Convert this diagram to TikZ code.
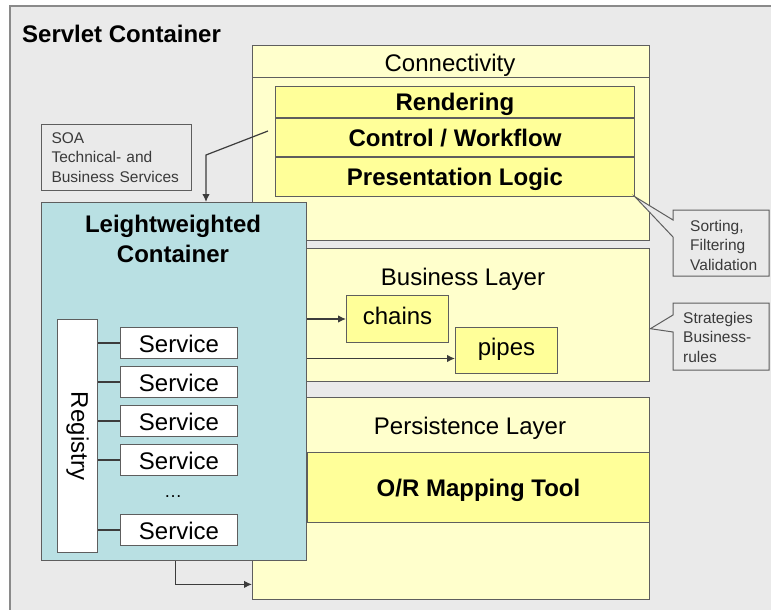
\documentclass[tikz,border=0pt]{standalone}
\usepackage{fontspec}
\setmainfont{Liberation Sans}
\usetikzlibrary{arrows.meta}

\definecolor{panelgray}{HTML}{EAEAEA}
\definecolor{panelline}{HTML}{8A8A8A}
\definecolor{edgegray}{HTML}{5E5E5E}
\definecolor{linkgray}{HTML}{3C3C3C}
\definecolor{notegray}{HTML}{3A3A3A}
\definecolor{layeryellow}{HTML}{FFFFCC}
\definecolor{bandyellow}{HTML}{FFFF99}
\definecolor{lwcblue}{HTML}{B9E0E3}

\begin{document}
\begin{tikzpicture}[x=1pt, y=-1pt,
	every node/.style={inner sep=0pt},
	bigtext/.style={font=\fontsize{24}{30}\selectfont},
	bigbold/.style={font=\fontsize{24}{30}\selectfont\bfseries},
	notetext/.style={font=\fontsize{15.5}{19.5}\selectfont, text=notegray, align=left},
	layer/.style={draw=edgegray, fill=layeryellow, line width=1.4pt, anchor=north west},
	band/.style={draw=edgegray, fill=bandyellow, line width=0.9pt, anchor=north west, bigbold, text height=18pt, text depth=0pt},
	servicebox/.style={draw=edgegray, fill=white, line width=1pt, anchor=north west, minimum width=117pt, minimum height=31pt, bigtext, text height=18pt, text depth=0pt},
	smallbox/.style={draw=edgegray, fill=bandyellow, line width=1pt, anchor=north west, minimum width=102pt, bigtext, text height=18pt, text depth=8pt},
	link/.style={draw=linkgray, line width=1.2pt},
	arrow/.style={link, -{Latex[length=8pt, width=7.5pt]}},
	callout/.style={draw=edgegray, fill=panelgray, line width=1pt},
]
	\useasboundingbox (0,0) rectangle (771,610);
	\clip (0,0) rectangle (771,610);
	\fill[white] (0,0) rectangle (771,610);

	% servlet container panel
	\draw[draw=panelline, fill=panelgray, line width=1.5pt] (10,6) rectangle (800,640);
	\node[bigbold, anchor=base west] (servlet) at (22,43) {Servlet Container};

	% connectivity layer
	\node[layer, minimum width=397pt, minimum height=195pt] (conn) at (252,45) {};
	\draw[edgegray, line width=1pt] ([yshift=-33pt]conn.north west) -- ([yshift=-33pt]conn.north east);
	\node[bigtext, anchor=base] (conntitle) at (450,72) {Connectivity};
	\node[band, minimum width=359pt, minimum height=31pt] (render) at (275,86) {Rendering};
	\node[band, minimum width=359pt, minimum height=38pt] (ctrl) at (render.south west) {Control / Workflow};
	\node[band, minimum width=359pt, minimum height=39pt] (pres) at (ctrl.south west) {Presentation Logic};

	% business layer
	\node[layer, minimum width=397pt, minimum height=133pt] (biz) at (252,248) {};
	\node[bigtext, anchor=base] (biztitle) at (463,285) {Business Layer};
	\node[smallbox, minimum height=47pt] (chains) at (346,295) {chains};
	\node[smallbox, minimum height=46pt] (pipes) at (455,327) {pipes};

	% persistence layer
	\node[layer, minimum width=397pt, minimum height=202pt] (pers) at (252,397) {};
	\node[bigtext, anchor=base] (perstitle) at (470,434) {Persistence Layer};
	\node[band, minimum width=342pt, minimum height=70pt] (ormap) at (307,452) {O/R Mapping Tool};

	% notes
	\draw[callout] (673,210) -- (769,210) -- (769,276) -- (673,276) -- (673,237) -- (pres.south east) -- (673,220) -- cycle;
	\node[notetext, anchor=west] (sortnote) at (690,245) {Sorting,\\Filtering\\Validation};
	\draw[callout] (673,303) -- (769,303) -- (769,370) -- (673,370) -- (673,332) -- ([yshift=-13.5pt]biz.east) -- (673,315) -- cycle;
	\node[notetext, anchor=west] (stratnote) at (683,337) {Strategies\\Business-\\rules};
	\node[draw=edgegray, fill=panelgray, line width=1pt, anchor=north west, notetext,
		minimum height=66pt, text width=130pt, inner xsep=10pt] (soa) at (41,124)
		{SOA\\Technical- and\\Business Services};

	% leightweighted container with registry and services
	\node[draw=edgegray, fill=lwcblue, line width=1.4pt, anchor=north west, minimum width=265pt, minimum height=358pt] (lwc) at (41,202) {};
	\node[bigbold, align=center, anchor=base] (lwctitle) at (173,262) {Leightweighted\\Container};
	\node[draw=edgegray, fill=white, line width=1pt, anchor=north west, minimum width=40pt, minimum height=233pt] (reg) at (57,319) {};
	\node[bigtext, rotate=-90] (reglabel) at (reg.center) {Registry};
	\foreach \y/\n in {327/1, 366/2, 405/3, 444/4, 514/5} {
		\node[servicebox] (svc\n) at (120,\y) {Service};
		\draw[link] (reg.east |- svc\n.west) -- (svc\n.west);
	}
	\node[font=\fontsize{18}{20}\selectfont, anchor=base] (dots) at (173,497) {…};

	% connectors
	\coordinate (soafrom) at (268,131);
	\coordinate (soabend) at (206,155);
	\draw[arrow] (soafrom) -- (soabend) -- (soabend |- lwc.north);
	\draw[arrow] (lwc.east |- chains.west) -- (chains.west);
	\coordinate (pipesin) at ([yshift=-8pt]pipes.west);
	\draw[arrow] (lwc.east |- pipesin) -- (pipesin);
	\coordinate (persin) at ([yshift=16pt]pers.south west);
	\draw[arrow] ([xshift=1.5pt]lwc.south) |- (persin);
\end{tikzpicture}
\end{document}
